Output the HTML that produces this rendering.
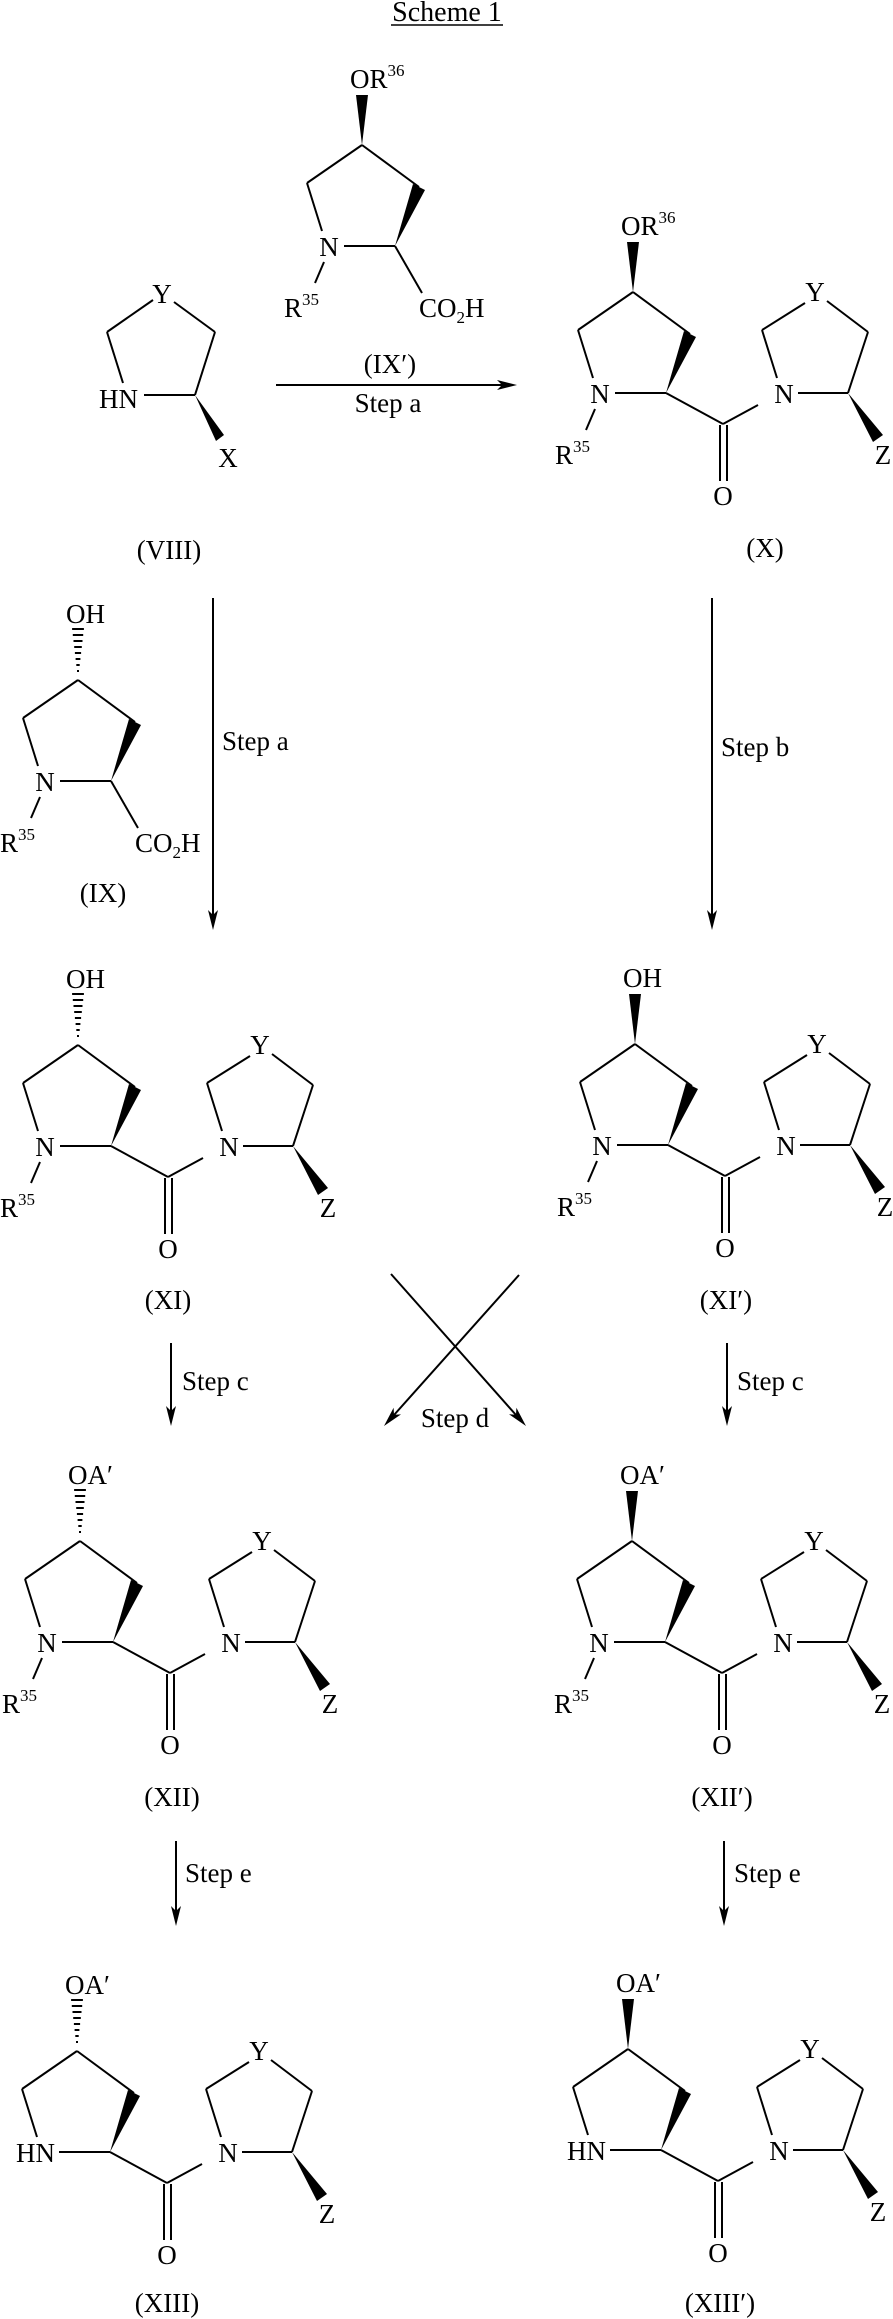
<!DOCTYPE html>
<html><head><meta charset="utf-8"><style>
html,body{margin:0;padding:0;background:#fff;}
svg{display:block;}
text{font-family:"Liberation Serif",serif;font-size:27px;fill:#000;}
.s{font-size:17px;}
line{stroke:#000;stroke-width:2;}
</style></head><body>
<svg width="893" height="2319" viewBox="0 0 893 2319" xmlns="http://www.w3.org/2000/svg">
<defs>
<g id="pyr">
<line x1="0" y1="0" x2="-55" y2="38"/>
<line x1="-55" y1="38" x2="-40" y2="86"/>
<line x1="-18" y1="101" x2="33" y2="101"/>
<line x1="0" y1="0" x2="57" y2="42"/>
<polygon points="33,101 51,39 63,45"/>
</g>
<g id="amide">
<line x1="33" y1="101" x2="90" y2="132"/>
<line x1="90" y1="132" x2="125" y2="113"/>
<line x1="87" y1="133" x2="87" y2="189"/>
<line x1="94" y1="133" x2="94" y2="189"/>
<line x1="165" y1="101" x2="215" y2="101"/>
<line x1="144" y1="86" x2="129" y2="38"/>
<line x1="129" y1="38" x2="172" y2="11"/>
<line x1="194" y1="9" x2="235" y2="40"/>
<line x1="235" y1="40" x2="215" y2="101"/>
<polygon points="215,101 240,150 250,143"/>
</g>
<g id="r35"><line x1="-38" y1="117" x2="-47" y2="138"/></g>
<polygon id="beta" points="0,0 -6,-50 6,-50"/>
<g id="alpha">
<line x1="-1" y1="-9" x2="1" y2="-9"/>
<line x1="-1.7" y1="-15" x2="1.7" y2="-15"/>
<line x1="-2.4" y1="-21" x2="2.4" y2="-21"/>
<line x1="-3.1" y1="-27" x2="3.1" y2="-27"/>
<line x1="-3.8" y1="-33" x2="3.8" y2="-33"/>
<line x1="-4.5" y1="-39" x2="4.5" y2="-39"/>
<line x1="-5.2" y1="-45" x2="5.2" y2="-45"/>
<line x1="-5.9" y1="-51" x2="5.9" y2="-51"/>
</g>
</defs>

<text x="447" y="21" text-anchor="middle" style="font-size:28px">Scheme 1</text>
<line x1="391" y1="25" x2="503" y2="25" style="stroke-width:1.5"/>

<g>
<text x="162" y="303" text-anchor="middle">Y</text>
<line x1="153" y1="300" x2="107" y2="332"/>
<line x1="107" y1="332" x2="123" y2="383"/>
<line x1="174" y1="302" x2="215" y2="332"/>
<line x1="215" y1="332" x2="195" y2="395"/>
<line x1="144" y1="395" x2="195" y2="395"/>
<text x="138" y="408" text-anchor="end">HN</text>
<polygon points="195,395 216,441 224,435"/>
<text x="228" y="467" text-anchor="middle">X</text>
<text x="169" y="559" text-anchor="middle">(VIII)</text>
</g>

<g transform="translate(362,145)">
<use href="#pyr"/><use href="#beta"/><use href="#r35"/>
<line x1="33" y1="101" x2="60" y2="148"/>
<text x="-12" y="-57">OR<tspan class="s" dy="-12">36</tspan></text>
<text x="-33" y="111" text-anchor="middle">N</text>
<text x="-78" y="172">R<tspan class="s" dy="-12">35</tspan></text>
<text x="57" y="172">CO<tspan class="s" dy="6">2</tspan><tspan dy="-6">H</tspan></text>
</g>
<line x1="276" y1="385" x2="503" y2="385"/>
<polygon points="517,385 497,380 502,385 497,390"/>
<text x="390" y="373" text-anchor="middle">(IX′)</text>
<text x="388" y="412" text-anchor="middle">Step a</text>

<g transform="translate(633,292)">
<use href="#pyr"/><use href="#amide"/><use href="#beta"/><use href="#r35"/>
<text x="-12" y="-57">OR<tspan class="s" dy="-12">36</tspan></text>
<text x="-33" y="111" text-anchor="middle">N</text>
<text x="151" y="111" text-anchor="middle">N</text>
<text x="182" y="9" text-anchor="middle">Y</text>
<text x="250" y="172" text-anchor="middle">Z</text>
<text x="90" y="213" text-anchor="middle">O</text>
<text x="-78" y="172">R<tspan class="s" dy="-12">35</tspan></text>
</g>
<text x="765" y="557" text-anchor="middle">(X)</text>

<line x1="213" y1="598" x2="213" y2="915"/>
<polygon points="213,930 208,910 213,915 218,910"/>
<text x="222" y="750">Step a</text>
<line x1="712" y1="598" x2="712" y2="915"/>
<polygon points="712,930 707,910 712,915 717,910"/>
<text x="721" y="756">Step b</text>

<g transform="translate(78,680)">
<use href="#pyr"/><use href="#alpha"/><use href="#r35"/>
<line x1="33" y1="101" x2="60" y2="148"/>
<text x="-12" y="-57">OH</text>
<text x="-33" y="111" text-anchor="middle">N</text>
<text x="-78" y="172">R<tspan class="s" dy="-12">35</tspan></text>
<text x="57" y="172">CO<tspan class="s" dy="6">2</tspan><tspan dy="-6">H</tspan></text>
</g>
<text x="103" y="902" text-anchor="middle">(IX)</text>

<g transform="translate(78,1045)">
<use href="#pyr"/><use href="#amide"/><use href="#alpha"/><use href="#r35"/>
<text x="-12" y="-57">OH</text>
<text x="-33" y="111" text-anchor="middle">N</text>
<text x="151" y="111" text-anchor="middle">N</text>
<text x="182" y="9" text-anchor="middle">Y</text>
<text x="250" y="172" text-anchor="middle">Z</text>
<text x="90" y="213" text-anchor="middle">O</text>
<text x="-78" y="172">R<tspan class="s" dy="-12">35</tspan></text>
</g>
<text x="168" y="1309" text-anchor="middle">(XI)</text>

<g transform="translate(635,1044)">
<use href="#pyr"/><use href="#amide"/><use href="#beta"/><use href="#r35"/>
<text x="-12" y="-57">OH</text>
<text x="-33" y="111" text-anchor="middle">N</text>
<text x="151" y="111" text-anchor="middle">N</text>
<text x="182" y="9" text-anchor="middle">Y</text>
<text x="250" y="172" text-anchor="middle">Z</text>
<text x="90" y="213" text-anchor="middle">O</text>
<text x="-78" y="172">R<tspan class="s" dy="-12">35</tspan></text>
</g>
<text x="726" y="1309" text-anchor="middle">(XI′)</text>

<line x1="171" y1="1343" x2="171" y2="1411"/>
<polygon points="171,1426 166,1406 171,1411 176,1406"/>
<text x="182" y="1390">Step c</text>
<line x1="727" y1="1343" x2="727" y2="1411"/>
<polygon points="727,1426 722,1406 727,1411 732,1406"/>
<text x="737" y="1390">Step c</text>

<line x1="391" y1="1274" x2="516" y2="1415"/>
<polygon points="526,1426 509,1414.3 516,1414.8 516.4,1407.7"/>
<line x1="519" y1="1275" x2="394" y2="1415"/>
<polygon points="384,1426 401,1414.4 394,1414.8 393.6,1407.8"/>
<text x="455" y="1427" text-anchor="middle">Step d</text>

<g transform="translate(80,1541)">
<use href="#pyr"/><use href="#amide"/><use href="#alpha"/><use href="#r35"/>
<text x="-12" y="-57">OA′</text>
<text x="-33" y="111" text-anchor="middle">N</text>
<text x="151" y="111" text-anchor="middle">N</text>
<text x="182" y="9" text-anchor="middle">Y</text>
<text x="250" y="172" text-anchor="middle">Z</text>
<text x="90" y="213" text-anchor="middle">O</text>
<text x="-78" y="172">R<tspan class="s" dy="-12">35</tspan></text>
</g>
<text x="172" y="1806" text-anchor="middle">(XII)</text>

<g transform="translate(632,1541)">
<use href="#pyr"/><use href="#amide"/><use href="#beta"/><use href="#r35"/>
<text x="-12" y="-57">OA′</text>
<text x="-33" y="111" text-anchor="middle">N</text>
<text x="151" y="111" text-anchor="middle">N</text>
<text x="182" y="9" text-anchor="middle">Y</text>
<text x="250" y="172" text-anchor="middle">Z</text>
<text x="90" y="213" text-anchor="middle">O</text>
<text x="-78" y="172">R<tspan class="s" dy="-12">35</tspan></text>
</g>
<text x="722" y="1806" text-anchor="middle">(XII′)</text>

<line x1="176" y1="1841" x2="176" y2="1911"/>
<polygon points="176,1926 171,1906 176,1911 181,1906"/>
<text x="185" y="1882">Step e</text>
<line x1="724" y1="1841" x2="724" y2="1911"/>
<polygon points="724,1926 719,1906 724,1911 729,1906"/>
<text x="734" y="1882">Step e</text>

<g transform="translate(77,2051)">
<use href="#pyr"/><use href="#amide"/><use href="#alpha"/>
<text x="-12" y="-57">OA′</text>
<text x="-22" y="111" text-anchor="end">HN</text>
<text x="151" y="111" text-anchor="middle">N</text>
<text x="182" y="9" text-anchor="middle">Y</text>
<text x="250" y="172" text-anchor="middle">Z</text>
<text x="90" y="213" text-anchor="middle">O</text>
</g>
<text x="167" y="2312" text-anchor="middle">(XIII)</text>

<g transform="translate(628,2049)">
<use href="#pyr"/><use href="#amide"/><use href="#beta"/>
<text x="-12" y="-57">OA′</text>
<text x="-22" y="111" text-anchor="end">HN</text>
<text x="151" y="111" text-anchor="middle">N</text>
<text x="182" y="9" text-anchor="middle">Y</text>
<text x="250" y="172" text-anchor="middle">Z</text>
<text x="90" y="213" text-anchor="middle">O</text>
</g>
<text x="720" y="2312" text-anchor="middle">(XIII′)</text>
</svg>
</body></html>
